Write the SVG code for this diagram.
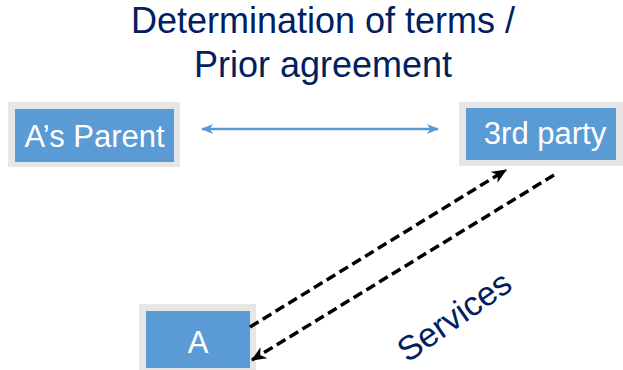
<svg xmlns="http://www.w3.org/2000/svg" width="623" height="370" viewBox="0 0 623 370">
<style>
.outer{fill:#e6e6e6}
.inner{fill:#5b9bd5}
.nt{font-family:"Liberation Sans",Arial,sans-serif;font-size:31px;fill:#ffffff;text-anchor:middle}
.title{font-family:"Liberation Sans",Arial,sans-serif;font-size:36px;fill:#002060;text-anchor:middle}
.dash{stroke:#000;stroke-width:3.500;stroke-dasharray:10,5;fill:none}
</style>
<defs>
<marker id="bh" viewBox="0 0 12 10" refX="11" refY="5" markerWidth="12" markerHeight="10" markerUnits="userSpaceOnUse" orient="auto-start-reverse">
<path d="M0,0 L12,5 L0,10 L3,5 Z" fill="#5b9bd5"/>
</marker>
<marker id="kh" viewBox="0 0 14 12" refX="13" refY="6" markerWidth="15" markerHeight="13" markerUnits="userSpaceOnUse" orient="auto">
<path d="M0,0 L14,6 L0,12 L4,6 Z" fill="#000"/>
</marker>
</defs>
<text class="title" x="323" y="33">Determination of terms /</text>
<text class="title" x="323" y="77">Prior agreement</text>
<g id="parent">
<rect class="outer" x="8" y="102" width="172" height="65"/>
<rect class="inner" x="15" y="109" width="159" height="53"/>
<text class="nt" x="94.500" y="147">A’s Parent</text>
</g>
<g id="third">
<rect class="outer" x="459" y="102" width="164" height="64"/>
<rect class="inner" x="466" y="108" width="150" height="52"/>
<text class="nt" x="545" y="144">3rd party</text>
</g>
<g id="a">
<rect class="outer" x="139" y="304" width="117" height="66"/>
<rect class="inner" x="146" y="311" width="104" height="57"/>
<text class="nt" x="198" y="353" font-size="36">A</text>
</g>
<g id="connectors">
<line x1="202" y1="129" x2="438" y2="129" stroke="#5b9bd5" stroke-width="2.500" marker-start="url(#bh)" marker-end="url(#bh)"/>
<line class="dash" x1="250" y1="327" x2="506" y2="170" marker-end="url(#kh)"/>
<line class="dash" x1="554" y1="175" x2="252" y2="360" marker-end="url(#kh)"/>
</g>
<text x="454" y="328" transform="rotate(-35 454 316)" font-family="Liberation Sans,Arial,sans-serif" font-size="34" fill="#002060" text-anchor="middle">Services</text>
</svg>
